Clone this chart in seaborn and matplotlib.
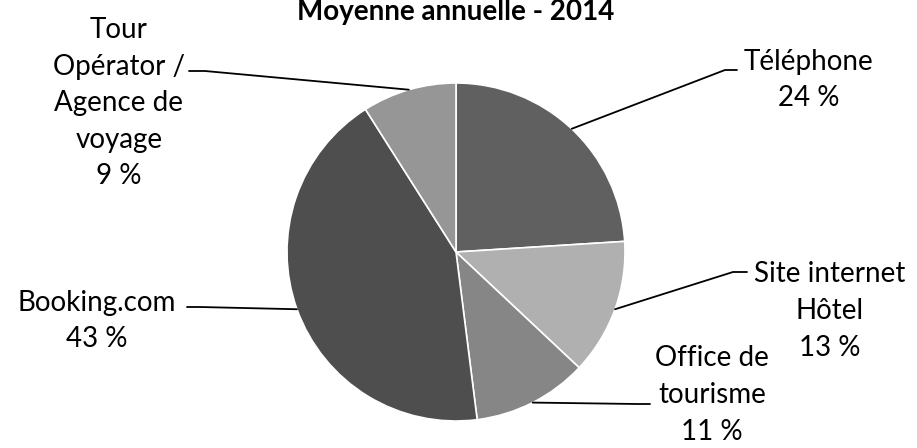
import numpy as np
import seaborn as sns
import matplotlib.pyplot as plt

# Donnees
categories = ["Téléphone", "Site internet\nHôtel", "Office de\ntourisme",
              "Booking.com", "Tour\nOpérator /\nAgence de\nvoyage"]
valeurs = [24, 13, 11, 43, 9]
couleurs = ["#606060", "#b0b0b0", "#868686", "#4e4e4e", "#969696"]

# positions des etiquettes (pixels, origine en bas a gauche)
pos_etiquettes = [(809, 368), (830, 137), (712, 53), (97, 127), (119, 345)]
# coude des traits de rappel et extremite du petit segment horizontal
coudes = [(725, 378), (733, 176), (637, 44), (200, 141), (205, 377)]
fins = [737, 747, 650, 187, 189]

sns.set_theme(style="white")
plt.rcParams['font.family'] = ['Lato', 'DejaVu Sans']

fig = plt.figure(figsize=(9.17, 4.48), dpi=100)
ax = fig.add_axes([0, 0, 1, 1])

centre = (456, 196)
rayon = 169
wedges, _ = ax.pie(valeurs, colors=couleurs, startangle=90, counterclock=False,
                   center=centre, radius=rayon, frame=True,
                   wedgeprops=dict(edgecolor="white", linewidth=1.2))
ax.set_xlim(0, 917)
ax.set_ylim(0, 448)
ax.set_aspect('equal')
ax.axis('off')

for w, cat, val, (tx, ty), (cx, cy), fx in zip(wedges, categories, valeurs,
                                               pos_etiquettes, coudes, fins):
    ang = np.deg2rad((w.theta1 + w.theta2) / 2)
    px = centre[0] + rayon * np.cos(ang)
    py = centre[1] + rayon * np.sin(ang)
    ax.plot([px, cx, fx], [py, cy, cy], color="black", lw=1.3)
    ax.text(tx, ty, f"{cat}\n{val} %", ha="center", va="center",
            fontsize=20, linespacing=1.5, color="black")

ax.text(456, 428, "Moyenne annuelle - 2014", ha="center", va="baseline",
        fontsize=20, fontweight="bold", color="black")

fig.savefig("out.png", dpi=100)
